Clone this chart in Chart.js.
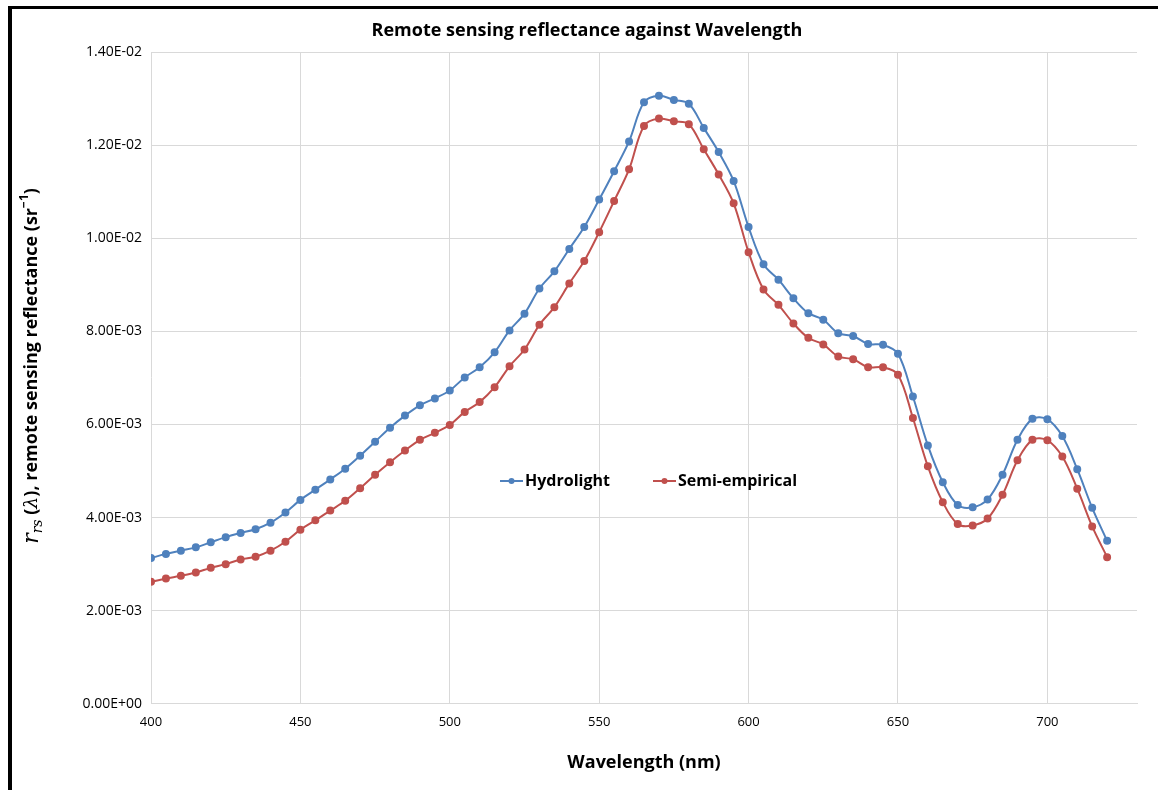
<!DOCTYPE html>
<html>
<head>
<meta charset="utf-8">
<script src="https://cdn.jsdelivr.net/npm/chart.js@4.4.0/dist/chart.umd.min.js"></script>
<style>
  html, body { margin: 0; padding: 0; background: #fff; }
  #marco { position: absolute; left: 8px; top: 6px; width: 1150px; height: 784px;
           border-left: 4px solid #000; border-top: 3px solid #000; box-sizing: border-box; }
  #lienzo { position: absolute; left: 0; top: 0; }
</style>
</head>
<body>
<div id="marco"></div>
<canvas id="lienzo" width="1158" height="790"></canvas>
<script>
// longitudes de onda (nm)
const longitudes = [400,405,410,415,420,425,430,435,440,445,450,455,460,465,470,475,480,485,490,495,
  500,505,510,515,520,525,530,535,540,545,550,555,560,565,570,575,580,585,590,595,
  600,605,610,615,620,625,630,635,640,645,650,655,660,665,670,675,680,685,690,695,
  700,705,710,715,720];

// rrs (x1e-3 sr^-1)
const hydrolight = [3.13,3.22,3.29,3.36,3.47,3.58,3.67,3.75,3.89,4.11,4.38,4.60,4.82,5.05,5.33,5.63,5.93,6.19,6.41,6.56,
  6.73,7.01,7.23,7.55,8.02,8.38,8.92,9.29,9.77,10.24,10.83,11.44,12.08,12.92,13.06,12.97,12.89,12.37,11.85,11.23,
  10.24,9.44,9.11,8.71,8.39,8.25,7.96,7.90,7.73,7.71,7.52,6.60,5.55,4.76,4.27,4.22,4.39,4.92,5.67,6.12,
  6.11,5.75,5.04,4.21,3.50];

const semiEmpirico = [2.62,2.69,2.75,2.82,2.92,3.00,3.10,3.16,3.29,3.48,3.74,3.94,4.15,4.36,4.63,4.92,5.19,5.44,5.67,5.82,
  5.99,6.27,6.48,6.80,7.25,7.61,8.14,8.52,9.03,9.51,10.13,10.80,11.48,12.41,12.57,12.51,12.45,11.91,11.37,10.75,
  9.70,8.90,8.57,8.17,7.86,7.72,7.46,7.40,7.23,7.23,7.07,6.14,5.10,4.33,3.86,3.83,3.98,4.49,5.23,5.67,
  5.66,5.31,4.62,3.81,3.15];

const xTicks = [400,450,500,550,600,650,700];
const yTicks = [0,0.002,0.004,0.006,0.008,0.010,0.012,0.014];

const titulo = 'Remote sensing reflectance against Wavelength';
const fuente = "'Open Sans', 'Noto Sans', sans-serif";
const azul = '#4F81BD';
const rojo = '#C0504D';

function aPuntos(valores) {
  return longitudes.map((l, i) => ({ x: l, y: valores[i] / 1000 }));
}

function formatoE(v) {
  if (v === 0) return '0.00E+00';
  let exp = Math.floor(Math.log10(Math.abs(v)) + 1e-9);
  const man = v / Math.pow(10, exp);
  const signo = exp < 0 ? '-' : '+';
  exp = Math.abs(exp);
  return man.toFixed(2) + 'E' + signo + (exp < 10 ? '0' + exp : exp);
}

// titulo, titulo del eje Y con subindice y leyenda dentro del area
const extras = {
  id: 'extras',
  afterDraw(chart) {
    const ctx = chart.ctx;
    ctx.save();
    ctx.fillStyle = '#000';
    ctx.font = 'bold 18px ' + fuente;
    ctx.textAlign = 'center';
    ctx.textBaseline = 'middle';
    ctx.fillText(titulo, 587, 31);
    ctx.restore();

    ctx.save();
    // eje Y
    ctx.translate(32, 366);
    ctx.rotate(-Math.PI / 2);
    ctx.fillStyle = '#000';
    ctx.textBaseline = 'middle';
    const partes = [
      { t: 'r', f: "italic 22px 'DejaVu Serif', serif", dy: 0 },
      { t: 'rs', f: "italic 14px 'DejaVu Serif', serif", dy: 6 },
      { t: ' (', f: 'bold 18px ' + fuente, dy: 0 },
      { t: 'λ', f: "italic 19px 'DejaVu Serif', serif", dy: 0 },
      { t: '), remote sensing reflectance (sr', f: 'bold 18px ' + fuente, dy: 0 },
      { t: '−1', f: 'bold 12px ' + fuente, dy: -7 },
      { t: ')', f: 'bold 18px ' + fuente, dy: 0 }
    ];
    let ancho = 0;
    partes.forEach(p => { ctx.font = p.f; ancho += ctx.measureText(p.t).width; });
    let x = -ancho / 2;
    partes.forEach(p => {
      ctx.font = p.f;
      ctx.fillText(p.t, x, p.dy);
      x += ctx.measureText(p.t).width;
    });
    ctx.restore();

    // leyenda
    ctx.save();
    const yl = 481;
    const items = [
      { nombre: 'Hydrolight', color: azul, x0: 500 },
      { nombre: 'Semi-empirical', color: rojo, x0: 653 }
    ];
    ctx.font = 'bold 16px ' + fuente;
    ctx.textBaseline = 'middle';
    items.forEach(it => {
      ctx.strokeStyle = it.color;
      ctx.lineWidth = 2;
      ctx.beginPath();
      ctx.moveTo(it.x0, yl);
      ctx.lineTo(it.x0 + 23, yl);
      ctx.stroke();
      ctx.fillStyle = it.color;
      ctx.beginPath();
      ctx.arc(it.x0 + 11.5, yl, 3, 0, Math.PI * 2);
      ctx.fill();
      ctx.fillStyle = '#000';
      ctx.fillText(it.nombre, it.x0 + 25, yl);
    });
    ctx.restore();
  }
};

new Chart(document.getElementById('lienzo'), {
  type: 'line',
  data: {
    datasets: [
      { label: 'Hydrolight', data: aPuntos(hydrolight), borderColor: azul, backgroundColor: azul,
        borderWidth: 2, pointRadius: 3, pointHoverRadius: 3, tension: 0.35 },
      { label: 'Semi-empirical', data: aPuntos(semiEmpirico), borderColor: rojo, backgroundColor: rojo,
        borderWidth: 2, pointRadius: 3, pointHoverRadius: 3, tension: 0.35 }
    ]
  },
  options: {
    responsive: false,
    animation: false,
    layout: { padding: { left: 0, right: 21, top: 52, bottom: 0 } },
    plugins: {
      legend: { display: false },
      tooltip: { enabled: false },
      title: { display: false }
    },
    scales: {
      x: {
        type: 'linear',
        min: 400, max: 730,
        afterBuildTicks: s => { s.ticks = xTicks.map(v => ({ value: v })); },
        grid: { color: '#D9D9D9', drawTicks: false },
        border: { color: '#D9D9D9' },
        ticks: { color: '#000', font: { family: fuente, size: 13 }, padding: 11, maxRotation: 0 },
        title: { display: true, text: 'Wavelength (nm)', color: '#000',
                 font: { family: fuente, size: 18, weight: 'bold' }, padding: { top: 11, bottom: 16 } }
      },
      y: {
        min: 0, max: 0.014,
        afterBuildTicks: s => { s.ticks = yTicks.map(v => ({ value: v })); },
        afterFit: s => { s.width = 151; },
        grid: { color: '#D9D9D9', drawTicks: false },
        border: { display: false },
        ticks: { color: '#000', font: { family: fuente, size: 14 }, padding: 9, callback: v => formatoE(v) }
      }
    }
  },
  plugins: [extras]
});
</script>
</body>
</html>
